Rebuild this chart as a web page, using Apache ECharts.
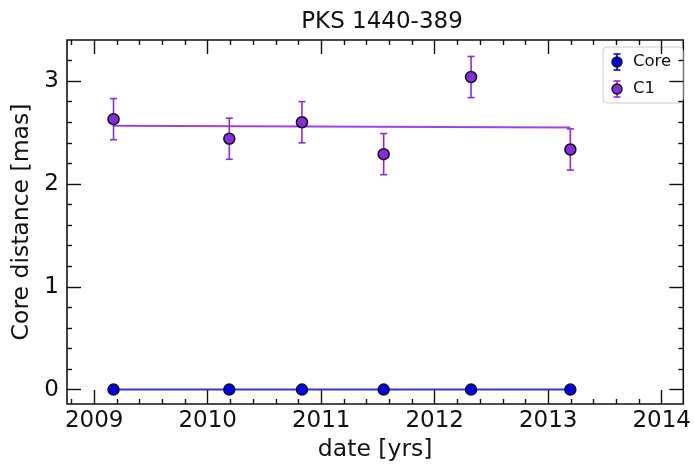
<!DOCTYPE html>
<html>
<head>
<meta charset="utf-8">
<script src="https://cdn.jsdelivr.net/npm/echarts@6/dist/echarts.min.js"></script>
<style>
  html, body { margin: 0; padding: 0; background: #fff; }
  #chart { width: 694px; height: 468px; }
</style>
</head>
<body>
<div id="chart"></div>
<script>
// Epochs (decimal years) of the VLBI observations
const epochs = [2009.17, 2010.19, 2010.83, 2011.55, 2012.32, 2013.195];
// Core component: distance from core and uncertainty [mas]
const coreDist = [0, 0, 0, 0, 0, 0];
const coreErr = [0, 0, 0, 0, 0, 0];
// Jet component C1: distance from core and uncertainty [mas]
const c1Dist = [2.63, 2.44, 2.60, 2.29, 3.04, 2.335];
const c1Err = [0.2, 0.2, 0.2, 0.2, 0.2, 0.2];
// Linear fits, evaluated at the first and last epoch
const coreFit = [0, 0];
const c1Fit = [2.565, 2.550];

const seriesNames = ['Core', 'C1'];
const seriesColors = ['#0000ee', '#8a2be2'];
const fitColors = ['#3535d8', '#9a45ea'];

// Axis ranges and tick labels
const xRange = [2008.76, 2014.19];
const yRange = [-0.14, 3.4];
const xTicks = [2009, 2010, 2011, 2012, 2013, 2014];
const yTicks = [0, 1, 2, 3];

function minorValues(lo, hi, step, majors) {
  const out = [];
  for (let v = Math.ceil(lo / step) * step; v < hi - 1e-9; v += step) {
    const r = Math.round(v * 100) / 100;
    if (r > lo && r < hi && !majors.some(m => Math.abs(m - r) < 1e-6)) out.push(r);
  }
  return out;
}
const xMinor = minorValues(xRange[0], xRange[1], 0.2, xTicks);
const yMinor = minorValues(yRange[0], yRange[1], 0.2, yTicks);

const FONT = 'DejaVu Sans';
const INK = '#111111';
const TICK_FONT = 23;

function axisCommon(range, position, ticks, len, extra) {
  return Object.assign({
    type: 'value',
    min: range[0],
    max: range[1],
    position: position,
    splitLine: { show: false },
    axisLine: { show: false, onZero: false },
    axisTick: {
      show: true, inside: true, length: len, customValues: ticks,
      lineStyle: { color: INK, width: 1.4 }
    },
    axisLabel: { show: false }
  }, extra || {});
}

function errorBars(dist, err, color) {
  return {
    type: 'custom',
    xAxisIndex: 0, yAxisIndex: 0,
    data: epochs.map((x, i) => [x, dist[i] - err[i], dist[i] + err[i]]),
    renderItem: function (params, api) {
      const lo = api.coord([api.value(0), api.value(1)]);
      const hi = api.coord([api.value(0), api.value(2)]);
      const cap = 3.5;
      const st = { stroke: color, lineWidth: 1.6 };
      return {
        type: 'group',
        children: [
          { type: 'line', shape: { x1: lo[0], y1: lo[1], x2: hi[0], y2: hi[1] }, style: st },
          { type: 'line', shape: { x1: lo[0] - cap, y1: lo[1], x2: lo[0] + cap, y2: lo[1] }, style: st },
          { type: 'line', shape: { x1: hi[0] - cap, y1: hi[1], x2: hi[0] + cap, y2: hi[1] }, style: st }
        ]
      };
    },
    z: 3
  };
}

function fitLine(fit, color) {
  return {
    type: 'line',
    xAxisIndex: 0, yAxisIndex: 0,
    data: [[epochs[0], fit[0]], [epochs[epochs.length - 1], fit[1]]],
    showSymbol: false, symbol: 'none',
    lineStyle: { color: color, width: 2 },
    z: 2, silent: true
  };
}

function points(name, dist, color) {
  return {
    name: name,
    type: 'scatter',
    xAxisIndex: 0, yAxisIndex: 0,
    data: epochs.map((x, i) => [x, dist[i]]),
    symbol: 'circle',
    symbolSize: 11,
    itemStyle: { color: color, borderColor: '#111', borderWidth: 1.5, opacity: 1 },
    z: 5
  };
}

// Legend box with error-bar markers
function legendGraphic() {
  const x0 = 603, y0 = 47, rowY = [62, 89];
  const children = [{
    type: 'rect',
    shape: { x: x0, y: y0, width: 80, height: 56, r: 4 },
    style: { fill: 'rgba(255,255,255,0.85)', stroke: '#cccccc', lineWidth: 1 }
  }];
  seriesNames.forEach((name, i) => {
    const cx = 617, cy = rowY[i];
    const st = { stroke: seriesColors[i], lineWidth: 1.6 };
    children.push(
      { type: 'line', shape: { x1: cx, y1: cy - 8, x2: cx, y2: cy + 8 }, style: st },
      { type: 'line', shape: { x1: cx - 3.5, y1: cy - 8, x2: cx + 3.5, y2: cy - 8 }, style: st },
      { type: 'line', shape: { x1: cx - 3.5, y1: cy + 8, x2: cx + 3.5, y2: cy + 8 }, style: st },
      { type: 'circle', shape: { cx: cx, cy: cy, r: 5 },
        style: { fill: seriesColors[i], stroke: '#111', lineWidth: 1.4 } },
      { type: 'text', x: 633, y: cy,
        style: { text: name, fill: INK, font: '16.5px "DejaVu Sans"', textVerticalAlign: 'middle' } }
    );
  });
  return { type: 'group', children: children, z: 100 };
}

const chart = echarts.init(document.getElementById('chart'), null, { renderer: 'canvas' });
chart.setOption({
  animation: false,
  backgroundColor: '#ffffff',
  title: {
    text: 'PKS 1440-389',
    left: 377, top: 6, textAlign: 'center',
    textStyle: { fontFamily: FONT, fontSize: 23, fontWeight: 'normal', color: INK }
  },
  grid: {
    left: 67, right: 7, top: 40, bottom: 64,
    show: true, borderColor: INK, borderWidth: 1.6, backgroundColor: 'transparent'
  },
  xAxis: [
    axisCommon(xRange, 'bottom', xTicks, 14, {
      name: 'date [yrs]', nameLocation: 'middle', nameGap: 34,
      nameTextStyle: { fontFamily: FONT, fontSize: 23.5, color: INK },
      axisLabel: { show: true, customValues: xTicks, color: INK, fontFamily: FONT, fontSize: TICK_FONT, margin: 6, formatter: v => String(v) }
    }),
    axisCommon(xRange, 'bottom', xMinor, 5),
    axisCommon(xRange, 'top', xTicks, 14),
    axisCommon(xRange, 'top', xMinor, 5)
  ],
  yAxis: [
    axisCommon(yRange, 'left', yTicks, 14, {
      name: 'Core distance [mas]', nameLocation: 'middle', nameGap: 24,
      nameTextStyle: { fontFamily: FONT, fontSize: 23.5, color: INK },
      axisLabel: { show: true, customValues: yTicks, color: INK, fontFamily: FONT, fontSize: TICK_FONT, margin: 8, formatter: v => String(v) }
    }),
    axisCommon(yRange, 'left', yMinor, 5),
    axisCommon(yRange, 'right', yTicks, 14),
    axisCommon(yRange, 'right', yMinor, 5)
  ],
  series: [
    fitLine(coreFit, fitColors[0]),
    fitLine(c1Fit, fitColors[1]),
    errorBars(coreDist, coreErr, seriesColors[0]),
    errorBars(c1Dist, c1Err, seriesColors[1]),
    points(seriesNames[0], coreDist, seriesColors[0]),
    points(seriesNames[1], c1Dist, seriesColors[1])
  ],
  graphic: [legendGraphic()]
});
</script>
</body>
</html>
